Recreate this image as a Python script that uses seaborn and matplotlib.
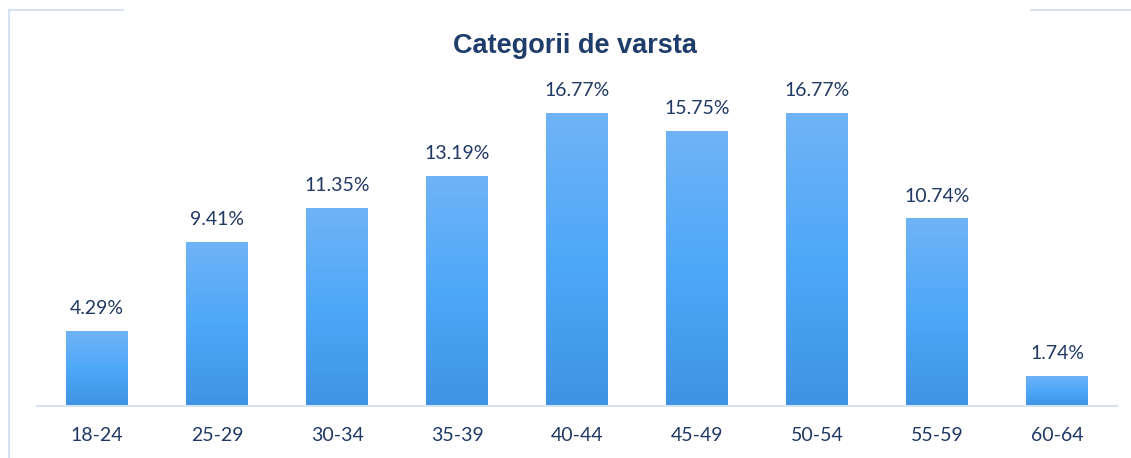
import numpy as np
import pandas as pd
import matplotlib
matplotlib.use("Agg")
import matplotlib.pyplot as plt
from matplotlib.colors import LinearSegmentedColormap
from matplotlib.lines import Line2D
import seaborn as sns

# === data ===
age_groups = ["18-24", "25-29", "30-34", "35-39", "40-44", "45-49", "50-54", "55-59", "60-64"]
shares = [4.29, 9.41, 11.35, 13.19, 16.77, 15.75, 16.77, 10.74, 1.74]
title = "Categorii de varsta"

df = pd.DataFrame({"Varsta": age_groups, "Procent": shares})

sns.set_theme(style="white")
plt.rcParams["font.family"] = ["Lato", "DejaVu Sans"]

TEXT_COLOR = "#203864"
LINE_COLOR = "#d4e2f3"

fig = plt.figure(figsize=(11.31, 4.58), dpi=100)
ax = fig.add_axes([37 / 1131, 52 / 458, 1080 / 1131, 314.5 / 458])

sns.barplot(data=df, x="Varsta", y="Procent", color="#52a9f9", width=0.51,
            saturation=1, ax=ax)

# gradient fill clipped to each bar
grad = LinearSegmentedColormap.from_list("bar", ["#3f93e3", "#4ea8f9", "#70b3f6"])
gimg = np.linspace(0, 1, 256).reshape(-1, 1)
for p in ax.patches:
    x0, y0 = p.get_x(), p.get_y()
    w, h = p.get_width(), p.get_height()
    im = ax.imshow(gimg, cmap=grad, aspect="auto", origin="lower",
                   extent=[x0, x0 + w, y0, y0 + h], zorder=p.get_zorder() + 0.1)
    im.set_clip_path(p)

for i, v in enumerate(shares):
    ax.annotate(f"{v:.2f}%", xy=(i, v), xytext=(0, 16), textcoords="offset points",
                ha="center", va="center", fontsize=14, color=TEXT_COLOR)

ax.set_xlim(-0.5, len(age_groups) - 0.5)
ax.set_ylim(0, 18)
ax.set_xlabel("")
ax.set_ylabel("")
ax.set_yticks([])
ax.tick_params(axis="x", length=0, pad=15, labelsize=14, labelcolor=TEXT_COLOR)
for s in ["top", "left", "right"]:
    ax.spines[s].set_visible(False)
ax.spines["bottom"].set_color(LINE_COLOR)
ax.spines["bottom"].set_linewidth(1.5)

fig.text(0.508, 1 - 46 / 458, title, ha="center", va="center", fontsize=19.5,
         fontweight="bold", color="#1f3d6b", family=["Liberation Sans", "DejaVu Sans"])

# frame corners
W, H = 1131, 458
fig.add_artist(Line2D([9 / W, 9 / W], [0, 1 - 10 / H], color=LINE_COLOR, lw=1.5))
fig.add_artist(Line2D([9 / W, 123 / W], [1 - 10 / H, 1 - 10 / H], color=LINE_COLOR, lw=1.5))
fig.add_artist(Line2D([1031 / W, 1], [1 - 10 / H, 1 - 10 / H], color=LINE_COLOR, lw=1.5))

fig.savefig("out.png", dpi=100)
